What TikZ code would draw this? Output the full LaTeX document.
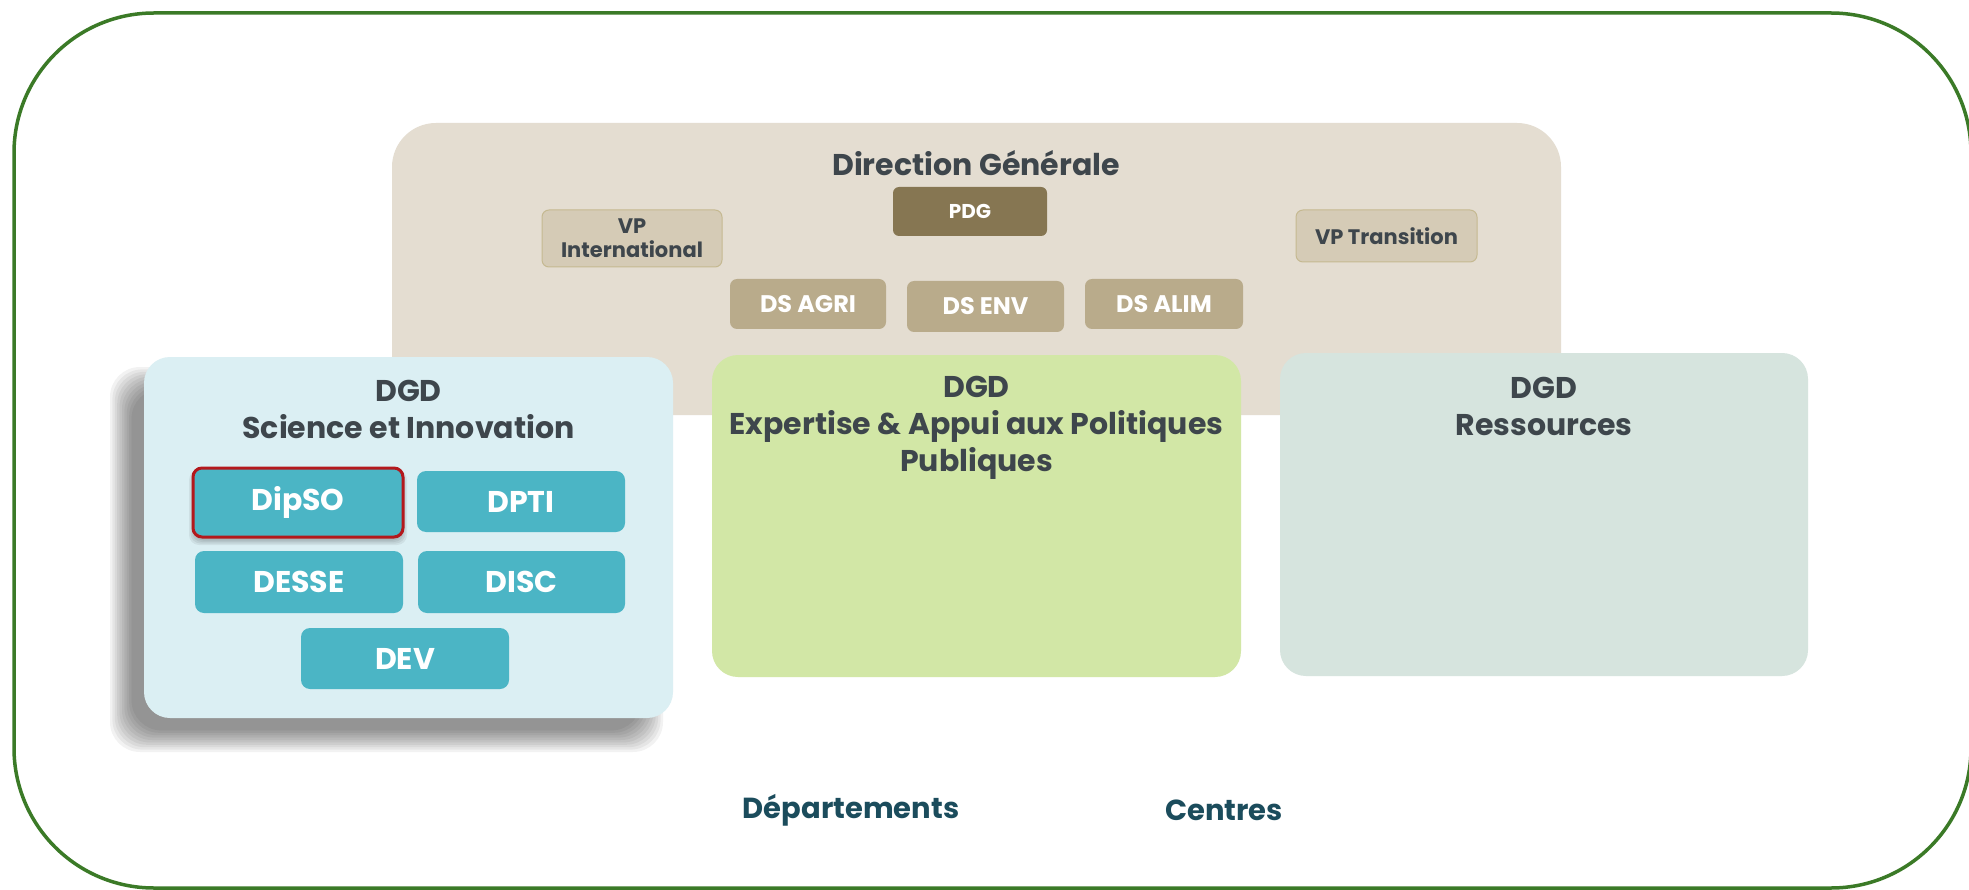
\documentclass[tikz,border=0pt]{standalone}
\usepackage{fontspec}
\setmainfont{Poppins}
\newcommand\myfs[2]{\fontsize{#1}{#2}\selectfont\bfseries}
\definecolor{framegreen}{HTML}{3B7A27}
\definecolor{dgbeige}{HTML}{E4DDD1}
\definecolor{vpfill}{HTML}{D5CBB6}
\definecolor{vpline}{HTML}{C5B991}
\definecolor{dsfill}{HTML}{B9AB8B}
\definecolor{pdgfill}{HTML}{867652}
\definecolor{sifill}{HTML}{DBEFF3}
\definecolor{teal}{HTML}{4BB5C5}
\definecolor{hired}{HTML}{B3181C}
\definecolor{expfill}{HTML}{D2E7A6}
\definecolor{resfill}{HTML}{D6E4DE}
\definecolor{titlegrey}{HTML}{3E464C}
\definecolor{bottomblue}{HTML}{1B4C5C}
\begin{document}
\begin{tikzpicture}[x=1pt,y=-1pt,
  bigbox/.style={fill=#1, rounded corners=26pt, inner sep=0pt},
  vpbox/.style={fill=vpfill, draw=vpline, line width=1pt, rounded corners=7pt, inner sep=0pt,
    text=titlegrey, font=\myfs{21}{24}, align=center},
  dsbox/.style={fill=dsfill, rounded corners=7pt, inner sep=0pt, text=white, font=\myfs{24}{28}},
  tealbox/.style={fill=teal, rounded corners=9pt, inner sep=0pt, text=white, font=\myfs{30}{36}},
  boxtitle/.style={text=titlegrey, font=\myfs{30}{37}, align=center, inner sep=0pt},
  bottomlabel/.style={text=bottomblue, font=\myfs{29}{34}, inner sep=0pt}]
\useasboundingbox (0,0) rectangle (1969,890);
\fill[white] (0,0) rectangle (1969,890);
% outer frame
\draw[framegreen, line width=3.5pt, rounded corners=140pt] (14,13) rectangle (1971,888);
% Direction Generale
\node[bigbox=dgbeige, rounded corners=44pt, minimum width=1169pt, minimum height=292pt] (dg) at (976.5,269) {};
\node[boxtitle] (dgt) at (976,163) {Direction Générale};
\node[fill=pdgfill, rounded corners=6pt, inner sep=0pt, text=white, font=\myfs{20}{24},
  minimum width=154pt, minimum height=49pt] (pdg) at (970,211.5) {PDG};
\node[vpbox, minimum width=180pt, minimum height=57pt] (vpi) at (632,238.5) {VP\\International};
\node[vpbox, minimum width=181pt, minimum height=52pt] (vpt) at (1386.5,236) {VP Transition};
\node[dsbox, minimum width=156pt, minimum height=50pt] (dsagri) at (808,304) {DS AGRI};
\node[dsbox, minimum width=157pt, minimum height=51pt] (dsenv) at (985.5,306.5) {DS ENV};
\node[dsbox, minimum width=158pt, minimum height=50pt] (dsalim) at (1164,304) {DS ALIM};
% shadow of DGD Science et Innovation
\foreach \i in {0,...,9}{
  \fill[black, opacity=0.05, rounded corners=30pt]
    ({122-12+2.4*\i},{379-12+2.4*\i}) rectangle ({651+12-2.4*\i},{740+12-2.4*\i});
}
% DGD boxes
\node[bigbox=sifill, minimum width=529pt, minimum height=361pt] (si) at (408.5,537.5) {};
\node[boxtitle] (sit) at (408.5,409) {DGD\\Science et Innovation};
\node[bigbox=expfill, minimum width=529pt, minimum height=322pt] (exp) at (976.5,516) {};
\node[boxtitle] (expt) at (976.5,428) {DGD\\Expertise \& Appui aux Politiques\\Publiques};
\node[bigbox=resfill, minimum width=528pt, minimum height=323pt] (res) at (1544,514.5) {};
\node[boxtitle] (rest) at (1544,406) {DGD\\Ressources};
% departments
\foreach \i in {0,...,3}{
  \fill[black, opacity=0.06, rounded corners=10pt]
    ({193-4+1.5*\i},{468-2+1.5*\i+4}) rectangle ({403+4-1.5*\i},{537+4-1.5*\i+4});
}
\node[tealbox, draw=hired, line width=3pt, minimum width=210pt, minimum height=69pt] (dipso) at (298,502.5) {DipSO};
\node[tealbox, minimum width=208pt, minimum height=61pt] (dpti) at (521,501.5) {DPTI};
\node[tealbox, minimum width=208pt, minimum height=62pt] (desse) at (299,582) {DESSE};
\node[tealbox, minimum width=207pt, minimum height=62pt] (disc) at (521.5,582) {DISC};
\node[tealbox, minimum width=208pt, minimum height=61pt] (dev) at (405,658.5) {DEV};
% bottom labels
\node[bottomlabel] (depts) at (851,810) {Départements};
\node[bottomlabel] (centres) at (1224,810) {Centres};
\end{tikzpicture}
\end{document}
